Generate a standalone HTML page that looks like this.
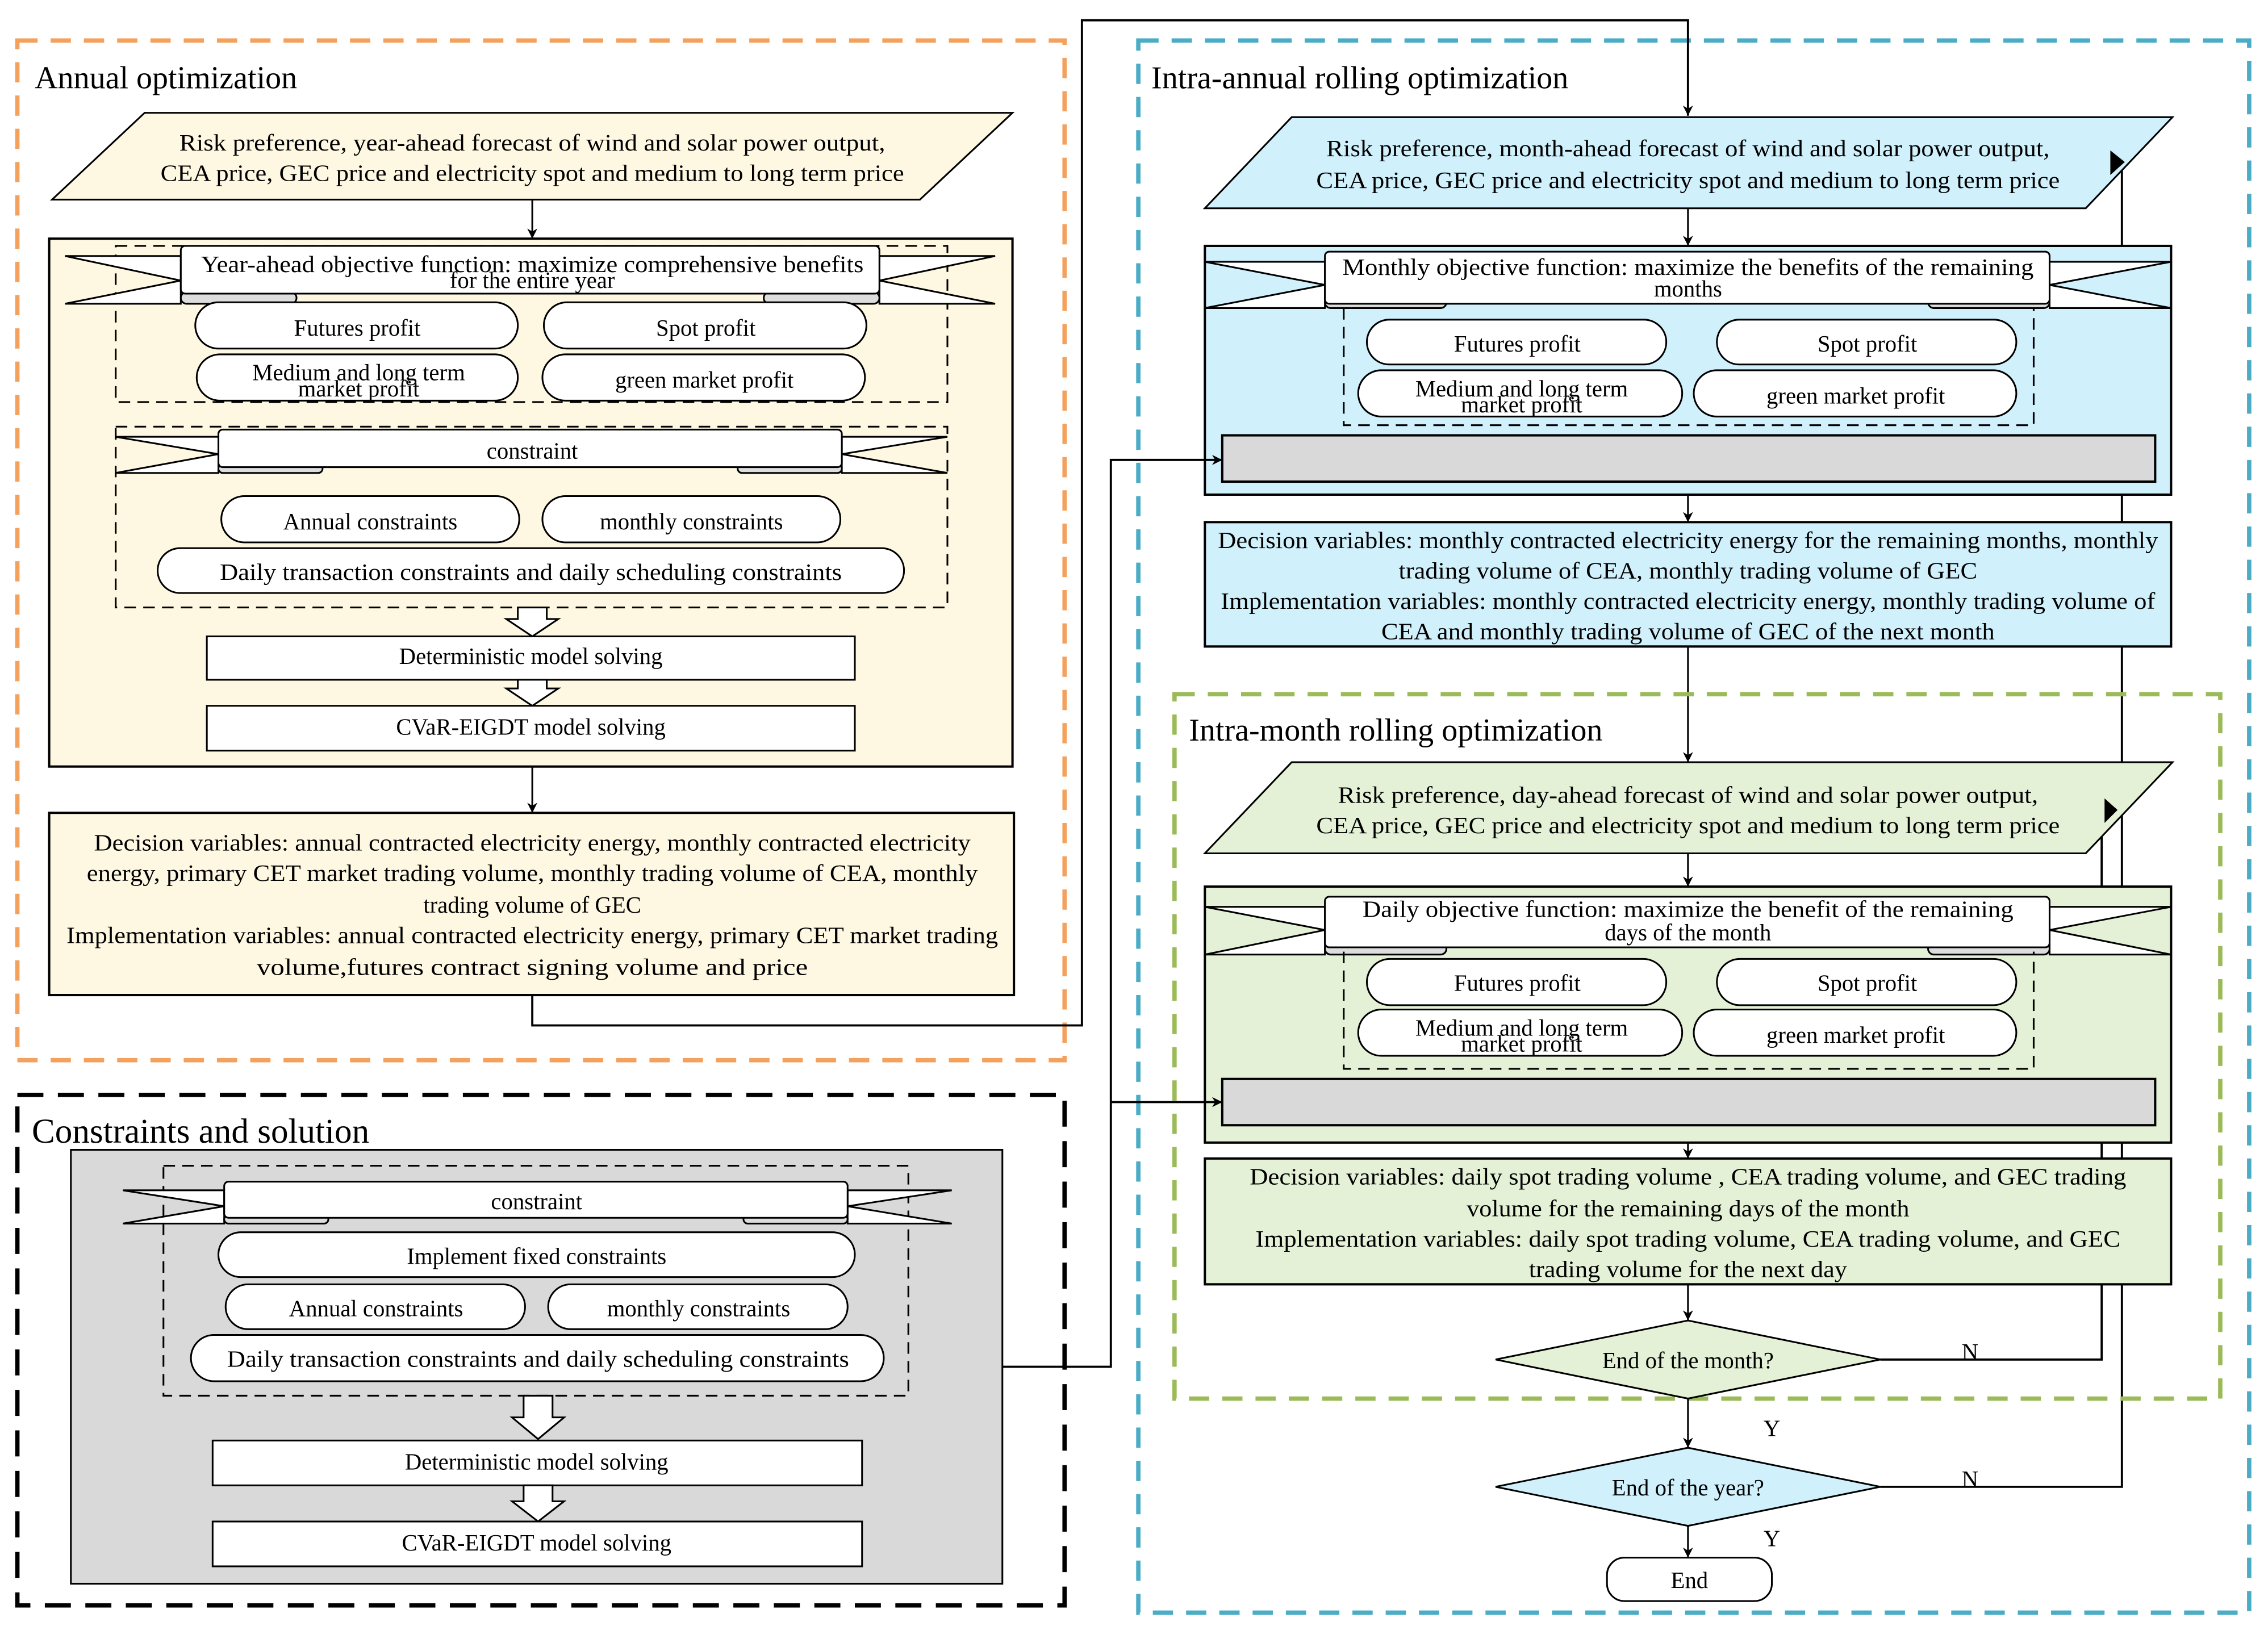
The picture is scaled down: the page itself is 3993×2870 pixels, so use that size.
<!DOCTYPE html>
<html><head><meta charset="utf-8"><style>
html,body{margin:0;padding:0;background:#fff}
svg{display:block}
text{font-family:"Liberation Serif",serif;font-size:16px;fill:#000}
.m{text-anchor:middle}
.t{font-size:22px}
</style></head><body>
<svg width="3993" height="2870" viewBox="0 0 1568 1127" xmlns="http://www.w3.org/2000/svg">
<defs>
<marker id="a" viewBox="0 0 10 10" refX="10" refY="5" markerWidth="7" markerHeight="9" orient="auto" markerUnits="userSpaceOnUse"><path d="M0,0 L10,5 L0,10 L3,5 z" fill="#000"/></marker>
</defs>
<g stroke="#000" fill="none" stroke-width="1.2">

<!-- loop lines (behind boxes) -->
<polyline points="1300,940 1453,940 1453,560" stroke-width="1.5"/>
<polyline points="1300,1028 1467,1028 1467,112" stroke-width="1.5"/>

<!-- ===== Annual ===== -->
<rect x="12" y="28" width="724" height="705" stroke="#F4A15D" stroke-width="3" stroke-dasharray="14,9"/>
<polygon points="36,138 100,78 700,78 636,138" fill="#FEF7E1"/>
<line x1="368" y1="138" x2="368" y2="165" marker-end="url(#a)"/>
<rect x="34" y="165" width="666" height="365" fill="#FEF7E1" stroke-width="1.6"/>
<rect x="80" y="170" width="575" height="108" stroke-dasharray="8,5"/>
<polygon points="45,177 125,177 125,210 45,210 125,194" fill="#fff"/>
<polygon points="688,177 608,177 608,210 688,210 608,194" fill="#fff"/>
<rect x="125" y="202" width="80" height="8" rx="4" fill="#ddd"/>
<rect x="528" y="202" width="80" height="8" rx="4" fill="#ddd"/>
<rect x="125" y="170" width="483" height="33" rx="3" fill="#fff"/>
<rect x="135" y="209" width="223" height="32" rx="16" fill="#fff"/>
<rect x="376" y="209" width="223" height="32" rx="16" fill="#fff"/>
<rect x="136" y="245" width="222" height="32" rx="16" fill="#fff"/>
<rect x="375" y="245" width="223" height="32" rx="16" fill="#fff"/>
<rect x="80" y="295" width="575" height="125" stroke-dasharray="8,5"/>
<polygon points="80,302 151,302 151,327 80,327 151,314" fill="#fff"/>
<polygon points="655,302 582,302 582,327 655,327 582,314" fill="#fff"/>
<rect x="151" y="321" width="72" height="6" rx="3" fill="#ddd"/>
<rect x="510" y="321" width="72" height="6" rx="3" fill="#ddd"/>
<rect x="151" y="297" width="431" height="26" rx="3" fill="#fff"/>
<rect x="153" y="343" width="206" height="32" rx="16" fill="#fff"/>
<rect x="375" y="343" width="206" height="32" rx="16" fill="#fff"/>
<rect x="109" y="379" width="516" height="31" rx="15.5" fill="#fff"/>
<polygon points="358,420 378,420 378,428 386,428 368,440 350,428 358,428" fill="#fff"/>
<rect x="143" y="440" width="448" height="30" fill="#fff"/>
<polygon points="358,470 378,470 378,476 386,476 368,488 350,476 358,476" fill="#fff"/>
<rect x="143" y="488" width="448" height="31" fill="#fff"/>
<line x1="368" y1="530" x2="368" y2="562" marker-end="url(#a)"/>
<rect x="34" y="562" width="667" height="126" fill="#FEF7E1" stroke-width="1.6"/>

<!-- ===== Constraints and solution ===== -->
<rect x="12" y="757" width="724" height="353" stroke-width="3" stroke-dasharray="18,10"/>
<rect x="49" y="795" width="644" height="300" fill="#D9D9D9"/>
<rect x="113" y="806" width="515" height="159" stroke-dasharray="8,5"/>
<polygon points="85,823 155,823 155,846 85,846 155,834" fill="#fff"/>
<polygon points="658,823 586,823 586,846 658,846 586,834" fill="#fff"/>
<rect x="155" y="840" width="72" height="6" rx="3" fill="#ddd"/>
<rect x="514" y="840" width="72" height="6" rx="3" fill="#ddd"/>
<rect x="155" y="817" width="431" height="25" rx="3" fill="#fff"/>
<rect x="151" y="852" width="440" height="31" rx="15.5" fill="#fff"/>
<rect x="156" y="888" width="207" height="31" rx="15.5" fill="#fff"/>
<rect x="379" y="888" width="207" height="31" rx="15.5" fill="#fff"/>
<rect x="132" y="923" width="479" height="32" rx="16" fill="#fff"/>
<polygon points="362,965 382,965 382,980 390,980 372,995 354,980 362,980" fill="#fff"/>
<rect x="147" y="996" width="449" height="31" fill="#fff"/>
<polygon points="362,1027 382,1027 382,1038 390,1038 372,1052 354,1038 362,1038" fill="#fff"/>
<rect x="147" y="1052" width="449" height="31" fill="#fff"/>

<!-- ===== Intra-annual ===== -->
<rect x="787" y="28" width="768" height="1087" stroke="#4BACC6" stroke-width="3" stroke-dasharray="14,9"/>
<polygon points="833,144 893,81 1502,81 1442,144" fill="#D0F0FC"/>
<line x1="1167" y1="144" x2="1167" y2="170" marker-end="url(#a)"/>
<rect x="833" y="170" width="668" height="172" fill="#D0F0FC" stroke-width="1.6"/>
<polygon points="833,181 916,181 916,213 833,213 916,197" fill="#fff"/>
<polygon points="1501,181 1417,181 1417,213 1501,213 1417,197" fill="#fff"/>
<rect x="916" y="205" width="84" height="8" rx="4" fill="#ddd"/>
<rect x="1333" y="205" width="84" height="8" rx="4" fill="#ddd"/>
<rect x="916" y="174" width="501" height="36" rx="3" fill="#fff"/>
<polyline points="929,213 929,294 1406,294 1406,213" stroke-dasharray="8,5"/>
<rect x="945" y="221" width="207" height="31" rx="15.5" fill="#fff"/>
<rect x="1187" y="221" width="207" height="31" rx="15.5" fill="#fff"/>
<rect x="939" y="256" width="224" height="32" rx="16" fill="#fff"/>
<rect x="1171" y="256" width="223" height="32" rx="16" fill="#fff"/>
<rect x="845" y="301" width="645" height="32" fill="#D9D9D9" stroke-width="1.6"/>
<line x1="1167" y1="342" x2="1167" y2="361" marker-end="url(#a)"/>
<rect x="833" y="361" width="668" height="86" fill="#D0F0FC" stroke-width="1.6"/>
<line x1="1167" y1="447" x2="1167" y2="527" marker-end="url(#a)"/>

<!-- ===== Intra-month ===== -->
<rect x="812" y="480" width="723" height="487" stroke="#9BBB59" stroke-width="3" stroke-dasharray="14,9"/>
<polygon points="833,590 893,527 1502,527 1442,590" fill="#E4F1D6"/>
<line x1="1167" y1="590" x2="1167" y2="613" marker-end="url(#a)"/>
<rect x="833" y="613" width="668" height="177" fill="#E4F1D6" stroke-width="1.6"/>
<polygon points="833,627 916,627 916,660 833,660 916,643" fill="#fff"/>
<polygon points="1501,627 1417,627 1417,660 1501,660 1417,643" fill="#fff"/>
<rect x="916" y="652" width="84" height="8" rx="4" fill="#ddd"/>
<rect x="1333" y="652" width="84" height="8" rx="4" fill="#ddd"/>
<rect x="916" y="620" width="501" height="35" rx="3" fill="#fff"/>
<polyline points="929,658 929,739 1406,739 1406,658" stroke-dasharray="8,5"/>
<rect x="945" y="663" width="207" height="32" rx="16" fill="#fff"/>
<rect x="1187" y="663" width="207" height="32" rx="16" fill="#fff"/>
<rect x="939" y="698" width="224" height="32" rx="16" fill="#fff"/>
<rect x="1171" y="698" width="223" height="32" rx="16" fill="#fff"/>
<rect x="845" y="746" width="645" height="32" fill="#D9D9D9" stroke-width="1.6"/>
<line x1="1167" y1="790" x2="1167" y2="801" marker-end="url(#a)"/>
<rect x="833" y="801" width="668" height="87" fill="#E4F1D6" stroke-width="1.6"/>
<line x1="1167" y1="888" x2="1167" y2="913" marker-end="url(#a)"/>
<polygon points="1034,940 1167,913 1300,940 1167,967" fill="#E4F1D6"/>
<line x1="1167" y1="967" x2="1167" y2="1001" marker-end="url(#a)"/>
<polygon points="1034,1028 1167,1001 1300,1028 1167,1055" fill="#D0F0FC"/>
<line x1="1167" y1="1055" x2="1167" y2="1077" marker-end="url(#a)"/>
<rect x="1111" y="1077" width="114" height="30" rx="12" fill="#fff"/>
<polygon points="1455,552 1464,560 1455,569" fill="#000" stroke="none"/>
<polygon points="1459,104 1469,112 1459,121" fill="#000" stroke="none"/>

<!-- connectors on top -->
<polyline points="368,688 368,709 748,709 748,14 1167,14 1167,80" marker-end="url(#a)" stroke-width="1.5"/>
<polyline points="693,945 768,945 768,318 845,318" marker-end="url(#a)" stroke-width="1.5"/>
<polyline points="768,762 845,762" marker-end="url(#a)" stroke-width="1.5"/>
</g>

<!-- ===== Text ===== -->
<text x="24" y="61" class="t">Annual optimization</text>
<text x="368" y="104" class="m" textLength="488" lengthAdjust="spacingAndGlyphs">Risk preference,  year-ahead forecast of wind and solar power output,</text>
<text x="368" y="125" class="m" textLength="514" lengthAdjust="spacingAndGlyphs">CEA price, GEC price and electricity spot and medium to long term price</text>
<text x="368" y="188" class="m" textLength="458" lengthAdjust="spacingAndGlyphs">Year-ahead objective function: maximize comprehensive benefits</text>
<text x="368" y="199" class="m">for the entire year</text>
<text x="247" y="232" class="m">Futures profit</text>
<text x="488" y="232" class="m">Spot profit</text>
<text x="248" y="263" class="m">Medium and long term</text>
<text x="248" y="274" class="m">market profit</text>
<text x="487" y="268" class="m">green market profit</text>
<text x="368" y="317" class="m">constraint</text>
<text x="256" y="366" class="m">Annual constraints</text>
<text x="478" y="366" class="m">monthly constraints</text>
<text x="367" y="401" class="m" textLength="430" lengthAdjust="spacingAndGlyphs">Daily transaction constraints and daily scheduling constraints</text>
<text x="367" y="459" class="m">Deterministic model solving</text>
<text x="367" y="508" class="m">CVaR-EIGDT model solving</text>
<text x="368" y="588" class="m" textLength="606" lengthAdjust="spacingAndGlyphs">Decision variables: annual contracted electricity energy, monthly contracted electricity</text>
<text x="368" y="609" class="m" textLength="616" lengthAdjust="spacingAndGlyphs">energy, primary CET market trading volume, monthly trading volume of CEA, monthly</text>
<text x="368" y="631" class="m">trading volume of GEC</text>
<text x="368" y="652" class="m" textLength="644" lengthAdjust="spacingAndGlyphs">Implementation variables: annual contracted electricity energy, primary CET market trading</text>
<text x="368" y="674" class="m" textLength="381" lengthAdjust="spacingAndGlyphs">volume,futures contract signing volume and price</text>

<text x="22" y="790" class="t" style="font-size:24px">Constraints and solution</text>
<text x="371" y="836" class="m">constraint</text>
<text x="371" y="874" class="m">Implement fixed constraints</text>
<text x="260" y="910" class="m">Annual constraints</text>
<text x="483" y="910" class="m">monthly constraints</text>
<text x="372" y="945" class="m" textLength="430" lengthAdjust="spacingAndGlyphs">Daily transaction constraints and daily scheduling constraints</text>
<text x="371" y="1016" class="m">Deterministic model solving</text>
<text x="371" y="1072" class="m">CVaR-EIGDT model solving</text>

<text x="796" y="61" class="t">Intra-annual rolling optimization</text>
<text x="1167" y="108" class="m" textLength="500" lengthAdjust="spacingAndGlyphs">Risk preference,  month-ahead forecast of wind and solar power output,</text>
<text x="1167" y="130" class="m" textLength="514" lengthAdjust="spacingAndGlyphs">CEA price, GEC price and electricity spot and medium to long term price</text>
<text x="1167" y="190" class="m" textLength="478" lengthAdjust="spacingAndGlyphs">Monthly objective function: maximize the  benefits of the remaining</text>
<text x="1167" y="205" class="m">months</text>
<text x="1049" y="243" class="m">Futures profit</text>
<text x="1291" y="243" class="m">Spot profit</text>
<text x="1052" y="274" class="m">Medium and long term</text>
<text x="1052" y="285" class="m">market profit</text>
<text x="1283" y="279" class="m">green market profit</text>
<text x="1167" y="379" class="m" textLength="650" lengthAdjust="spacingAndGlyphs">Decision variables: monthly contracted electricity energy for the remaining months, monthly</text>
<text x="1167" y="400" class="m" textLength="400" lengthAdjust="spacingAndGlyphs">trading volume of CEA, monthly trading volume of GEC</text>
<text x="1167" y="421" class="m" textLength="646" lengthAdjust="spacingAndGlyphs">Implementation variables: monthly contracted electricity energy, monthly trading volume of</text>
<text x="1167" y="442" class="m" textLength="424" lengthAdjust="spacingAndGlyphs">CEA and monthly trading volume of GEC of the next month</text>

<text x="822" y="512" class="t">Intra-month rolling optimization</text>
<text x="1167" y="555" class="m" textLength="484" lengthAdjust="spacingAndGlyphs">Risk preference,  day-ahead forecast of wind and solar power output,</text>
<text x="1167" y="576" class="m" textLength="514" lengthAdjust="spacingAndGlyphs">CEA price, GEC price and electricity spot and medium to long term price</text>
<text x="1167" y="634" class="m" textLength="450" lengthAdjust="spacingAndGlyphs">Daily objective function: maximize the  benefit of the remaining</text>
<text x="1167" y="650" class="m">days of the month</text>
<text x="1049" y="685" class="m">Futures profit</text>
<text x="1291" y="685" class="m">Spot profit</text>
<text x="1052" y="716" class="m">Medium and long term</text>
<text x="1052" y="727" class="m">market profit</text>
<text x="1283" y="721" class="m">green market profit</text>
<text x="1167" y="819" class="m" textLength="606" lengthAdjust="spacingAndGlyphs">Decision variables: daily spot  trading volume , CEA trading volume, and GEC trading</text>
<text x="1167" y="841" class="m" textLength="306" lengthAdjust="spacingAndGlyphs">volume for the remaining days of the month</text>
<text x="1167" y="862" class="m" textLength="598" lengthAdjust="spacingAndGlyphs">Implementation variables: daily spot  trading volume, CEA trading volume, and GEC</text>
<text x="1167" y="883" class="m" textLength="220" lengthAdjust="spacingAndGlyphs">trading volume for the next day</text>
<text x="1167" y="946" class="m">End of the month?</text>
<text x="1167" y="1034" class="m">End of the year?</text>
<text x="1168" y="1098" class="m">End</text>
<text x="1362" y="940" class="m">N</text>
<text x="1362" y="1028" class="m">N</text>
<text x="1225" y="993" class="m">Y</text>
<text x="1225" y="1069" class="m">Y</text>
</svg>
</body></html>
